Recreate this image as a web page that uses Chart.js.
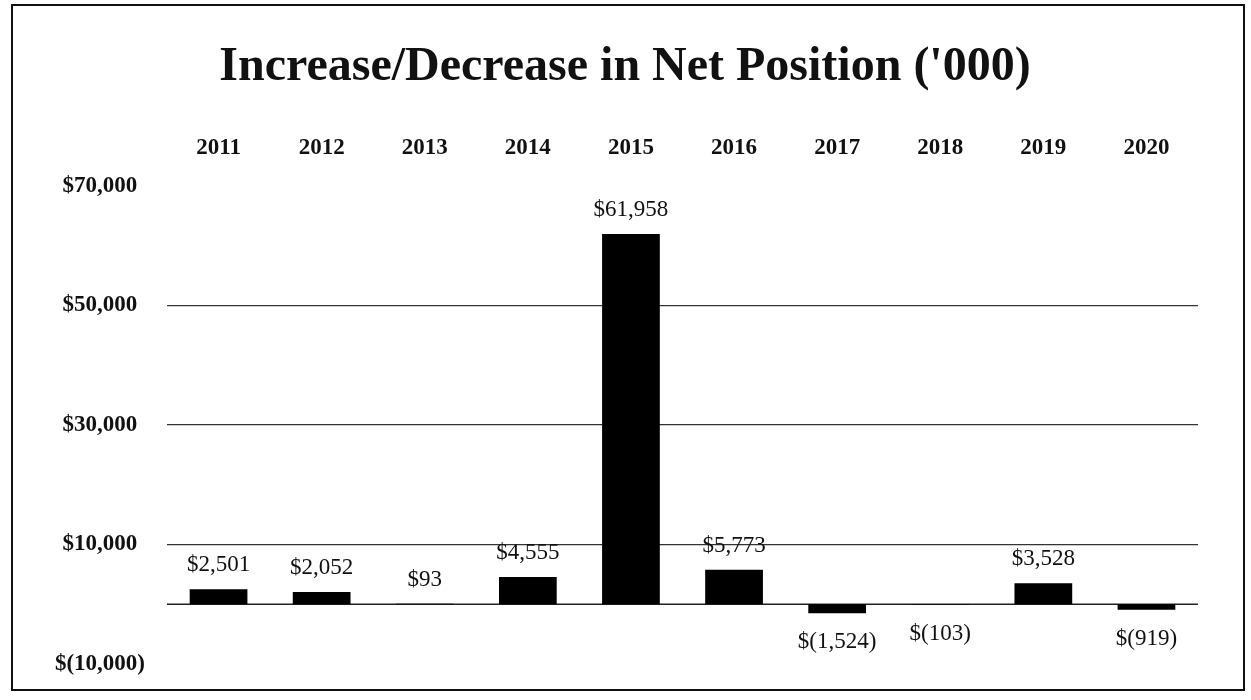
<!DOCTYPE html>
<html>
<head>
<meta charset="utf-8">
<script src="https://cdn.jsdelivr.net/npm/chart.js@4.4.1/dist/chart.umd.min.js"></script>
<style>
  html, body { margin: 0; padding: 0; background: #fff; }
  #wrap { width: 1251px; height: 700px; }
</style>
</head>
<body>
<div id="wrap"><canvas id="chart" width="1251" height="700"></canvas></div>
<script>
// data ('000)
const years = ['2011', '2012', '2013', '2014', '2015', '2016', '2017', '2018', '2019', '2020'];
const netChange = [2501, 2052, 93, 4555, 61958, 5773, -1524, -103, 3528, -919];
const yTicks = [-10000, 10000, 30000, 50000, 70000];
const gridValues = [10000, 30000, 50000];
const chartTitle = "Increase/Decrease in Net Position ('000)";

const serif = "'Liberation Serif', 'DejaVu Serif', serif";

function money(v) {
  const s = Math.abs(v).toLocaleString('en-US');
  return v < 0 ? '$(' + s + ')' : '$' + s;
}

// frame, title and zero line
const framePlugin = {
  id: 'frame',
  beforeDraw(chart) {
    const ctx = chart.ctx;
    ctx.save();
    ctx.fillStyle = '#fff';
    ctx.fillRect(0, 0, chart.width, chart.height);
    ctx.strokeStyle = '#111';
    ctx.lineWidth = 2;
    ctx.strokeRect(12, 5, 1232, 685);
    // title is centred on the page, not on the plot
    ctx.fillStyle = '#111';
    ctx.font = "bold 48px " + serif;
    ctx.textAlign = 'center';
    ctx.textBaseline = 'middle';
    ctx.fillText(chartTitle, 625, 68);
    ctx.restore();
  },
  beforeDatasetsDraw(chart) {
    const { ctx, chartArea, scales } = chart;
    const y0 = scales.y.getPixelForValue(0);
    ctx.save();
    ctx.strokeStyle = '#222';
    ctx.lineWidth = 1.5;
    ctx.beginPath();
    ctx.moveTo(chartArea.left, y0);
    ctx.lineTo(chartArea.right, y0);
    ctx.stroke();
    ctx.restore();
  }
};

// value labels above (positive) or below (negative) each bar
const valueLabels = {
  id: 'valueLabels',
  afterDatasetsDraw(chart) {
    const ctx = chart.ctx;
    const meta = chart.getDatasetMeta(0);
    ctx.save();
    ctx.font = "23px " + serif;
    ctx.fillStyle = '#111';
    ctx.textAlign = 'center';
    ctx.textBaseline = 'middle';
    meta.data.forEach((bar, i) => {
      const v = netChange[i];
      const y = v >= 0 ? bar.y - 24 : bar.y + 29;
      ctx.fillText(money(v), bar.x, y);
    });
    ctx.restore();
  }
};

new Chart(document.getElementById('chart'), {
  type: 'bar',
  data: {
    labels: years,
    datasets: [{
      data: netChange,
      backgroundColor: '#000',
      borderWidth: 0,
      barPercentage: 0.56,
      categoryPercentage: 1.0
    }]
  },
  options: {
    responsive: false,
    animation: false,
    layout: { padding: { left: 0, right: 53, top: 136, bottom: 36 } },
    plugins: {
      legend: { display: false },
      tooltip: { enabled: false },
      title: { display: false }
    },
    scales: {
      x: {
        position: 'top',
        grid: { display: false, drawTicks: false },
        border: { display: false },
        ticks: {
          color: '#111',
          font: { family: serif, size: 23, weight: 'bold' },
          padding: 24
        },
        afterFit(scale) { scale.height = 50; }
      },
      y: {
        min: -10000,
        max: 70000,
        afterBuildTicks(scale) {
          scale.ticks = yTicks.map(v => ({ value: v }));
        },
        grid: {
          drawTicks: false,
          lineWidth: 1.2,
          color: ctx => gridValues.includes(ctx.tick && ctx.tick.value) ? '#333' : 'rgba(0,0,0,0)'
        },
        border: { display: false },
        ticks: {
          color: '#111',
          font: { family: serif, size: 23, weight: 'bold' },
          crossAlign: 'center',
          padding: 22,
          callback: v => money(v)
        },
        afterFit(scale) { scale.width = 167; }
      }
    }
  },
  plugins: [framePlugin, valueLabels]
});
</script>
</body>
</html>
